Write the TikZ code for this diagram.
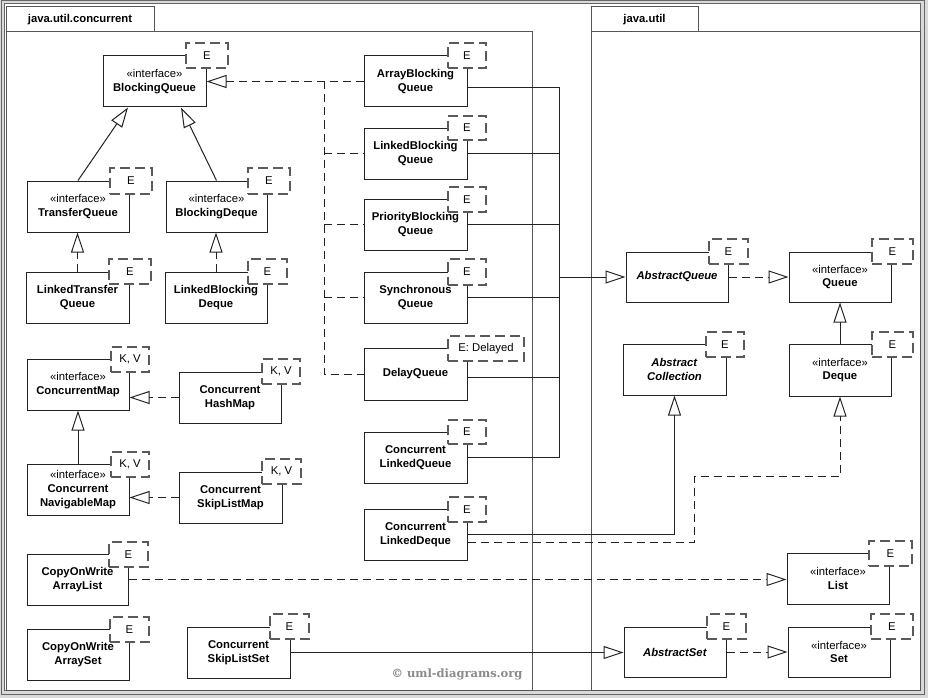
\documentclass[tikz,border=0pt]{standalone}
\usepackage{fontspec}
\setmainfont{Liberation Sans}
\newfontfamily\crfont{DejaVu Serif}
\usetikzlibrary{arrows.meta}
\definecolor{boxcol}{HTML}{222222}
\definecolor{pkgcol}{HTML}{555555}
\definecolor{tmplcol}{HTML}{5A5A5A}
\definecolor{framecol}{HTML}{666666}
\definecolor{bgcol}{HTML}{D9D9D9}
\definecolor{crcol}{HTML}{8A8A8A}
\newcommand\umlclass[6]{\node[cls, minimum width={#4pt-#2pt}, minimum height={#5pt-#3pt}] (#1) at ({(#2+#4)/2},{(#3+#5)/2}) {#6};}
\newcommand\umltmpl[6]{\node[tmpl, minimum width={#4pt-#2pt}, minimum height={#5pt-#3pt}] (#1) at ({(#2+#4)/2},{(#3+#5)/2}) {#6};}
\newcommand\stereo{«interface»\\}
\begin{document}
\begin{tikzpicture}[x=1pt,y=-1pt,
  txt/.style={font=\fontsize{11.3}{13.7}\selectfont},
  cls/.style={draw=boxcol, line width=1pt, fill=white, inner sep=0pt, align=center, txt},
  tmpl/.style={draw=tmplcol, line width=1.15pt, dash pattern=on 10pt off 5pt, fill=white, inner sep=0pt, txt},
  pkg/.style={draw=pkgcol, line width=1pt},
  tab/.style={draw=pkgcol, line width=1pt, fill=white, inner sep=0pt, txt, font=\fontsize{11.3}{13.7}\selectfont\bfseries},
  conn/.style={draw=boxcol, line width=1pt},
  dsh/.style={conn, dash pattern=on 8pt off 5pt},
  gen/.style={conn, -{Triangle[open, length=20pt, width=13pt]}},
  real/.style={dsh, -{Triangle[open, length=20pt, width=13pt]}}
]
\useasboundingbox (0,0) rectangle (928,698);
\fill[bgcol] (0,0) rectangle (928,698);
\draw[framecol, line width=1pt] (1,1) rectangle (924,694);
\draw[framecol, line width=1pt, fill=white] (4,4) rectangle (920,690);

% packages
\draw[pkg] (6,32) rectangle (532,690);
\node[tab, minimum width=148pt, minimum height=25.5pt] (pkgconc) at (80,19.25) {java.util.concurrent};
\draw[pkg] (591,32) rectangle (920,690);
\node[tab, minimum width=107pt, minimum height=25.5pt] (pkgutil) at (644.5,19.25) {java.util};

% classes
\umlclass{bq}{103}{56}{206}{107}{\stereo\textbf{BlockingQueue}}
\umlclass{tq}{27}{181}{129}{232}{\stereo\textbf{TransferQueue}}
\umlclass{bd}{166}{181}{267}{232}{\stereo\textbf{BlockingDeque}}
\umlclass{ltq}{26}{272}{129}{323}{\textbf{LinkedTransfer}\\\textbf{Queue}}
\umlclass{lbd}{165}{272}{267}{323}{\textbf{LinkedBlocking}\\\textbf{Deque}}
\umlclass{cm}{27}{359}{129}{410}{\stereo\textbf{ConcurrentMap}}
\umlclass{chm}{179}{372}{281}{423}{\textbf{Concurrent}\\\textbf{HashMap}}
\umlclass{cnm}{27}{464}{129}{515}{\stereo\textbf{Concurrent}\\\textbf{NavigableMap}}
\umlclass{csm}{179}{472}{282}{523}{\textbf{Concurrent}\\\textbf{SkipListMap}}
\umlclass{cowal}{27}{554}{128}{605}{\textbf{CopyOnWrite}\\\textbf{ArrayList}}
\umlclass{cowas}{27}{629}{129}{680}{\textbf{CopyOnWrite}\\\textbf{ArraySet}}
\umlclass{csls}{187}{627}{290}{678}{\textbf{Concurrent}\\\textbf{SkipListSet}}
\umlclass{abq}{364}{56}{467}{107}{\textbf{ArrayBlocking}\\\textbf{Queue}}
\umlclass{lbq}{364}{128}{467}{179}{\textbf{LinkedBlocking}\\\textbf{Queue}}
\umlclass{pbq}{364}{199}{467}{250}{\textbf{PriorityBlocking}\\\textbf{Queue}}
\umlclass{sq}{364}{272}{467}{323}{\textbf{Synchronous}\\\textbf{Queue}}
\umlclass{dq}{364}{348}{467}{400}{\textbf{DelayQueue}}
\umlclass{clq}{364}{432}{467}{483}{\textbf{Concurrent}\\\textbf{LinkedQueue}}
\umlclass{cld}{364}{509}{467}{560}{\textbf{Concurrent}\\\textbf{LinkedDeque}}
\umlclass{aq}{626}{252}{728}{302}{\textbf{\textit{AbstractQueue}}}
\umlclass{queue}{789}{252}{891}{302}{\stereo\textbf{Queue}}
\umlclass{ac}{623}{344}{726}{395}{\textbf{\textit{Abstract}}\\\textbf{\textit{Collection}}}
\umlclass{deque}{789}{344}{891}{396}{\stereo\textbf{Deque}}
\umlclass{list}{787}{553}{889}{604}{\stereo\textbf{List}}
\umlclass{as}{624}{627}{726}{677}{\textbf{\textit{AbstractSet}}}
\umlclass{set}{788}{627}{890}{677}{\stereo\textbf{Set}}

% templates
\umltmpl{bqT}{186}{43}{228}{68}{E}
\umltmpl{tqT}{110}{168}{152}{194}{E}
\umltmpl{bdT}{248}{168}{290}{194}{E}
\umltmpl{ltqT}{109}{259}{151}{284}{E}
\umltmpl{lbdT}{248}{259}{287}{284}{E}
\umltmpl{cmT}{111}{347}{149}{372}{K, V}
\umltmpl{chmT}{262}{359}{300}{384}{K, V}
\umltmpl{cnmT}{111}{452}{149}{477}{K, V}
\umltmpl{csmT}{262}{459}{301}{484}{K, V}
\umltmpl{cowalT}{109}{542}{148}{567}{E}
\umltmpl{cowasT}{110}{617}{149}{642}{E}
\umltmpl{cslsT}{270}{614}{309}{639}{E}
\umltmpl{abqT}{448}{43}{486}{68}{E}
\umltmpl{lbqT}{448}{116}{486}{140}{E}
\umltmpl{pbqT}{448}{187}{486}{212}{E}
\umltmpl{sqT}{448}{259}{486}{285}{E}
\umltmpl{dqT}{448}{336}{524}{361}{E: Delayed}
\umltmpl{clqT}{448}{420}{486}{444}{E}
\umltmpl{cldT}{448}{497}{486}{522}{E}
\umltmpl{aqT}{709}{239}{748}{264}{E}
\umltmpl{queueT}{872}{239}{913}{264}{E}
\umltmpl{acT}{706}{332}{744}{357}{E}
\umltmpl{dequeT}{872}{332}{913}{357}{E}
\umltmpl{listT}{869}{541}{912}{566}{E}
\umltmpl{asT}{707}{614}{746}{639}{E}
\umltmpl{setT}{871}{614}{913}{639}{E}

% helper coordinates
\coordinate (trunk) at (324,0);
\coordinate (bus) at (559,0);
\coordinate (c1) at (694,476);
\coordinate (abqe) at ([yshift=-6.5pt]abq.east);
\coordinate (dqe) at ([yshift=-3pt]dq.east);
\coordinate (clde) at ([yshift=-7.5pt]cld.east);

% generalizations
\draw[gen] (tq.north) -- ([xshift=-26.5pt]bq.south);
\draw[gen] (bd.north) -- ([xshift=26.5pt]bq.south);
\draw[gen] (cnm.north) -- (cnm.north |- cm.south);
\draw[gen] (deque.north) -- (queue.south);
\draw[gen] (csls.east) -- (csls.east -| as.west);
\draw[gen] (cld.east) -| (ac.south);
\draw[gen] (bus |- aq.west) -- (aq.west);

% realizations
\draw[real] (ltq.north) -- (ltq.north |- tq.south);
\draw[real] (lbd.north) -- (lbd.north |- bd.south);
\draw[real] (chm.west) -- (chm.west -| cm.east);
\draw[real] (csm.west) -- (csm.west -| cnm.east);
\draw[real] (abq.west) -- (bq.east);
\draw[real] (cowal.east) -- (cowal.east -| list.west);
\draw[real] (aq.east) -- (queue.west);
\draw[real] (as.east) -- (set.west);
\draw[real] (clde) -| (c1) -| (deque.south);

% dashed trunk
\draw[dsh] (abq.west -| trunk) -- (dq.west -| trunk) -- (dq.west);
\draw[dsh] (lbq.west -| trunk) -- (lbq.west);
\draw[dsh] (pbq.west -| trunk) -- (pbq.west);
\draw[dsh] (sq.west -| trunk) -- (sq.west);

% solid bus
\draw[conn] (abqe) -| (bus |- clq.east) -- (clq.east);
\draw[conn] (lbq.east) -- (lbq.east -| bus);
\draw[conn] (pbq.east) -- (pbq.east -| bus);
\draw[conn] (sq.east) -- (sq.east -| bus);
\draw[conn] (dqe) -- (dqe -| bus);

\node[text=crcol, font=\crfont\bfseries\fontsize{11.5}{13}\selectfont, inner sep=0pt] (copyr) at (457,674) {© uml-diagrams.org};
\end{tikzpicture}
\end{document}
